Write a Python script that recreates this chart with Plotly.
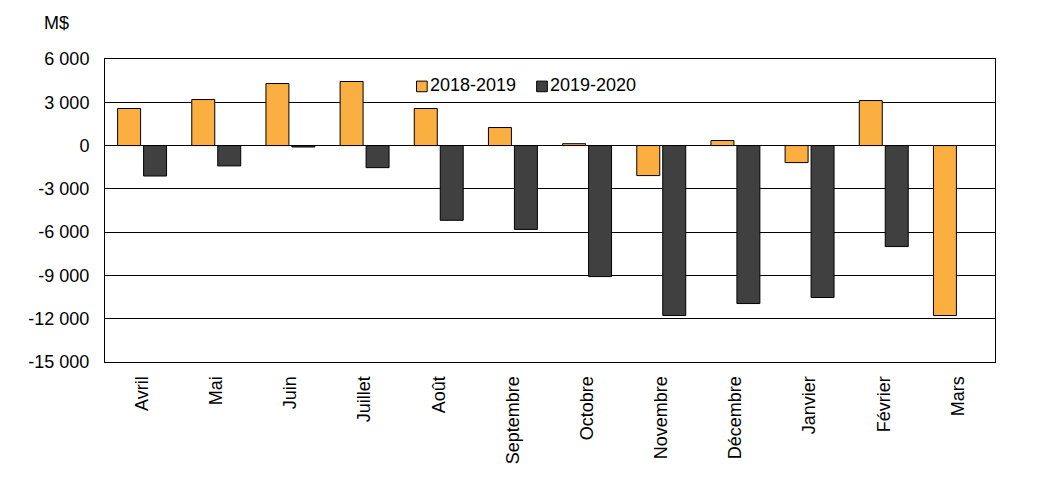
import plotly.graph_objects as go

months = ["Avril", "Mai", "Juin", "Juillet", "Août", "Septembre", "Octobre",
          "Novembre", "Décembre", "Janvier", "Février", "Mars"]
s2018 = [2570, 3190, 4300, 4440, 2570, 1250, 130, -2080, 350, -1180, 3120, -11780]
s2019 = [-2110, -1410, -100, -1530, -5180, -5810, -9080, -11780, -10950, -10530, -7000, None]
series_names = ["2018-2019", "2019-2020"]
colors = ["#FBAF41", "#404040"]
ytickvals = [6000, 3000, 0, -3000, -6000, -9000, -12000, -15000]
yticktext = ["6 000", "3 000", "0", "-3 000", "-6 000", "-9 000", "-12 000", "-15 000"]

fig = go.Figure()
for name, vals, col in zip(series_names, [s2018, s2019], colors):
    fig.add_trace(go.Bar(x=months, y=vals, name=name, showlegend=False,
                         marker=dict(color=col, line=dict(color="black", width=1))))

font = "Liberation Sans, Arial, sans-serif"
fig.update_layout(
    width=1045, height=501,
    margin=dict(l=97, r=58, t=51, b=147),
    paper_bgcolor="white", plot_bgcolor="white",
    barmode="group", bargap=0.30, bargroupgap=0.115,
    font=dict(family=font, size=18, color="black"),
    showlegend=False,
)

# custom legend (boxes + labels)
leg_box_x = [(0.350, 0.362), (0.485, 0.497)]
leg_txt_x = [0.363, 0.498]
for (x0, x1), tx, name, col in zip(leg_box_x, leg_txt_x, series_names, colors):
    fig.add_shape(type="rect", xref="paper", yref="paper", x0=x0, x1=x1,
                  y0=0.892, y1=0.927, fillcolor=col, line=dict(color="black", width=1))
    fig.add_annotation(text=name, x=tx, y=0.914, xref="paper", yref="paper",
                       xanchor="left", yanchor="middle", showarrow=False,
                       font=dict(size=18))

fig.add_annotation(text="M$", x=-0.055, y=1.12, xref="paper", yref="paper",
                   xanchor="center", yanchor="middle", showarrow=False,
                   font=dict(size=18))
fig.update_yaxes(range=[-15000, 6000], tickvals=ytickvals, ticktext=yticktext,
                 showgrid=True, gridcolor="black", gridwidth=1,
                 zeroline=True, zerolinecolor="black", zerolinewidth=1,
                 showline=True, linecolor="black", linewidth=1, mirror=True,
                 ticks="", ticklabelstandoff=11)
fig.update_xaxes(tickangle=-90, showline=True, linecolor="black", linewidth=1,
                 mirror=True, ticks="", showgrid=False, ticklabelstandoff=6)

fig.write_html("out.html")
